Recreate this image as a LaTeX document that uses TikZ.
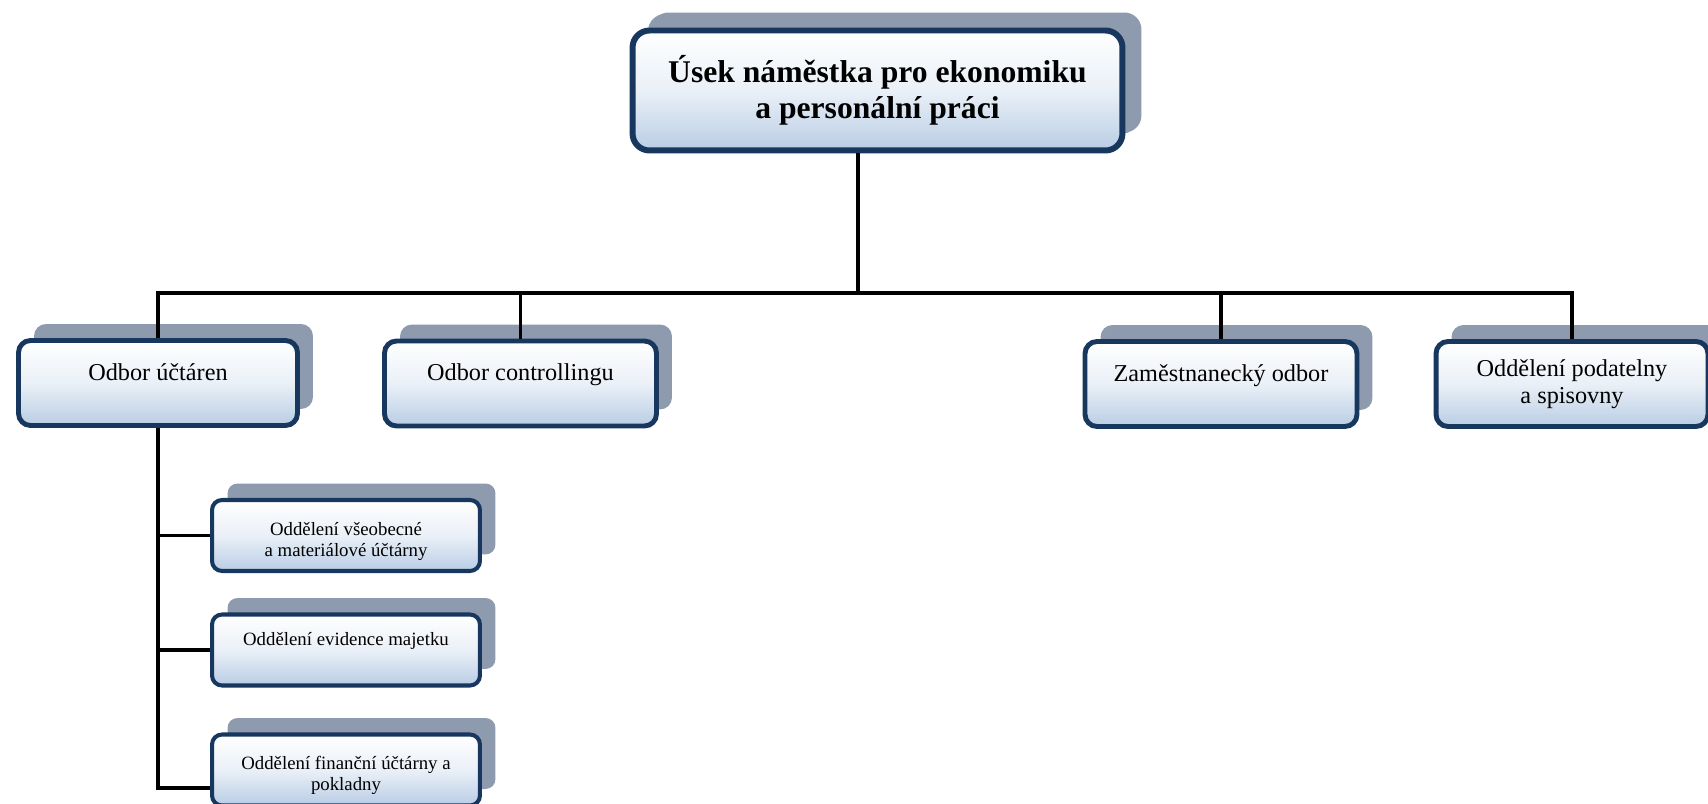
\documentclass[tikz,border=0pt]{standalone}
\usepackage{fontspec}
\setmainfont{Liberation Serif}
\usetikzlibrary{shadows,calc}
\definecolor{boxline}{HTML}{17375E}
\definecolor{boxblue}{HTML}{B9CDE5}
\definecolor{shadowgray}{HTML}{8E9BAF}
\begin{document}
\begin{tikzpicture}[x=0.02cm, y=-0.02cm,
    box/.style={draw=boxline, line width=2.8pt, rounded corners=0.24cm,
      top color=white, bottom color=boxblue, middle color=boxblue!30, align=center,
      drop shadow={shadow xshift=0.31cm, shadow yshift=0.33cm, fill=shadowgray, opacity=1}},
    usek/.style={box, line width=3.4pt, rounded corners=0.34cm, minimum width=9.8cm,
      minimum height=2.4cm, font=\fontsize{18}{20.5}\selectfont\bfseries,
      drop shadow={shadow xshift=0.38cm, shadow yshift=0.36cm, fill=shadowgray, opacity=1}},
    odbor/.style={box, minimum width=5.44cm, minimum height=1.7cm, font=\fontsize{13.8}{15.5}\selectfont},
    oddeleni/.style={box, line width=2.3pt, rounded corners=0.2cm, minimum width=5.36cm,
      minimum height=1.42cm, font=\fontsize{10.7}{12}\selectfont},
    single/.style={text depth=13pt},
    link/.style={line width=1.9pt}]
    \useasboundingbox (0, 0) rectangle (1708, 804);
    \clip (0, 0) rectangle (1708, 804);

    \node[usek] (usek) at (877.5, 90.5) {Úsek náměstka pro ekonomiku\\a personální práci};

    \node[odbor, single, minimum width=5.58cm] (uctarna) at (158, 383) {Odbor účtáren};
    \node[odbor, single] (ctrl) at (520.5, 383.5) {Odbor controllingu};
    \node[odbor, single] (zam) at (1221, 384) {Zaměstnanecký odbor};
    \node[odbor] (podatelna) at (1572, 384) {Oddělení podatelny\\a spisovny};

    \node[oddeleni] (vseob) at (346, 535.5) {\rule{0pt}{14pt}Oddělení všeobecné\\a materiálové účtárny};
    \node[oddeleni, single] (majetek) at (346, 650) {Oddělení evidence majetku};
    \node[oddeleni] (financni) at (346, 770) {\rule{0pt}{14pt}Oddělení finanční účtárny a\\pokladny};

    \coordinate (bus) at (858, 293);
    \draw[link] (usek.south -| bus) -- (bus);
    \draw[link] (uctarna.north) |- (bus) -| (podatelna.north);
    \draw[link] (ctrl.north) -- (ctrl.north |- bus);
    \draw[link] (zam.north) -- (zam.north |- bus);

    \draw[link] (uctarna.south) |- (vseob.west);
    \draw[link] (uctarna.south) |- (majetek.west);
    \draw[link] (uctarna.south) |- ($(financni.west) + (0, 18)$);
  \end{tikzpicture}
\end{document}
